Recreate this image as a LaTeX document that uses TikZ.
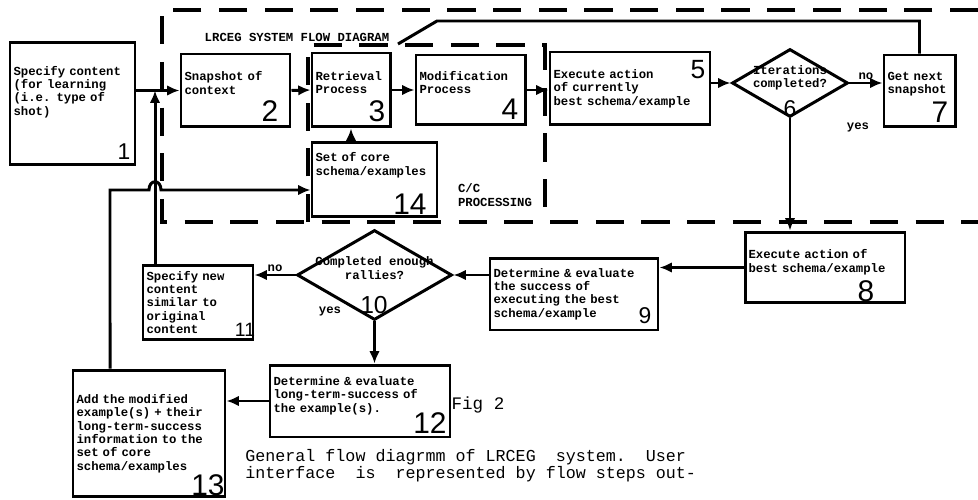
\documentclass[tikz,border=0pt]{standalone}
\usepackage{fontspec}
\setmonofont{Liberation Mono}
\newfontfamily\digitfont{Liberation Sans}
\usetikzlibrary{shapes.geometric,arrows.meta}

\tikzset{
  box/.style={draw,line width=1.7pt,align=left,inner sep=2pt,font=\ttfamily\bfseries\fontsize{7}{7.6}\selectfont},
  dec/.style={draw,diamond,line width=1.7pt,inner sep=0pt},
  lbl/.style={font=\ttfamily\bfseries\fontsize{7}{7.6}\selectfont,inner sep=1pt,align=center},
  num/.style={font=\digitfont\fontsize{17}{17}\selectfont,inner sep=0pt},
  link/.style={line width=1.7pt,-{Latex[length=7pt,width=6pt]}},
  wire/.style={line width=1.7pt},
  zone/.style={line width=1.8pt,dash pattern=on 16pt off 10pt},
}

\begin{document}
\begin{tikzpicture}[x=0.02cm,y=-0.02cm]
\useasboundingbox (0,0) rectangle (978,500);
% dashed areas
\draw[zone] (978,10) -- (162,10) -- (162,222) -- (978,222);
\draw[zone] (308,222) -- (308,45) -- (545,45) -- (545,222);
\node[lbl] (areatitle) at (297,37) {LRCEG SYSTEM FLOW DIAGRAM};
\node[lbl,anchor=west,align=left] (cctitle) at (456,195) {C/C\\PROCESSING};

% steps
\node[box,text width=2.36cm,minimum height=2.46cm] (b1) at (72.5,103.5) {Specify content\\(for learning\\(i.e. type of\\shot)\\[7pt]\mbox{}};
\node[box,text width=2.04cm,minimum height=1.46cm] (b2) at (235.5,90.5) {Snapshot of\\context\\[1pt]\mbox{}};
\node[box,text width=1.42cm,minimum height=1.48cm] (b3) at (351,90) {Retrieval\\Process\\[1pt]\mbox{}};
\node[box,text width=2.04cm,minimum height=1.40cm] (b4) at (470.5,90) {Modification\\Process\\[1pt]\mbox{}};
\node[box,text width=3.06cm,minimum height=1.46cm] (b5) at (630,88.5) {Execute action\\of currently\\best schema/example};
\node[dec,minimum width=2.32cm,minimum height=1.36cm] (d6) at (790,83) {};
\node[lbl] (t6) at (790,78) {Iterations\\completed?};
\node[box,text width=1.28cm,minimum height=1.44cm] (b7) at (919.5,91) {Get next\\snapshot\\[2pt]\mbox{}};
\node[box,text width=2.36cm,minimum height=1.50cm] (b14) at (374.5,179.5) {Set of core\\schema/examples\\[10pt]\mbox{}};
\node[box,text width=3.06cm,minimum height=1.42cm] (b8) at (825,267.5) {Execute action of\\best schema/example\\\mbox{}};
\node[box,text width=3.22cm,minimum height=1.44cm] (b9) at (574,294) {Determine \& evaluate\\the success of\\executing the best\\schema/example};
\node[dec,minimum width=3.1cm,minimum height=1.8cm] (d10) at (374.5,275) {};
\node[lbl] (t10) at (374.5,268) {Completed enough\\rallies?};
\node[box,text width=2.06cm,minimum height=1.50cm] (b11) at (198,302.5) {Specify new\\content\\similar to\\original\\content};
\node[box,text width=3.46cm,minimum height=1.44cm] (b12) at (360,401) {Determine \& evaluate\\long-term-success of\\the example(s).\\\mbox{}};
\node[box,text width=2.90cm,minimum height=2.54cm] (b13) at (149,433.5) {Add the modified\\example(s) + their\\long-term-success\\information to the\\set of core\\schema/examples};

% step numbers
\node[num,font=\digitfont\fontsize{13}{13}\selectfont] (n1) at (124,152) {1};
\node[num] (n2) at (270,111) {2};
\node[num] (n3) at (377,111) {3};
\node[num] (n4) at (510,109) {4};
\node[num,font=\digitfont\fontsize{15}{15}\selectfont] (n5) at (698,70) {5};
\node[num,font=\digitfont\fontsize{13}{13}\selectfont] (n6) at (790,109) {6};
\node[num] (n7) at (940,112) {7};
\node[num] (n14) at (410,204) {14};
\node[num] (n8) at (866,291) {8};
\node[num,font=\digitfont\fontsize{13}{13}\selectfont] (n9) at (645,316) {9};
\node[num,font=\digitfont\fontsize{14}{14}\selectfont] (n10) at (374,305) {10};
\node[num,font=\digitfont\fontsize{11}{11}\selectfont] (n11) at (245,330) {11};
\node[num] (n12) at (430,423) {12};
\node[num] (n13) at (208,485) {13};

% flow
\coordinate (ret) at (398,44);
\coordinate (up11) at ([xshift=-0.86cm]b11.north);
\coordinate (up13) at ([xshift=-0.78cm]b13.north);
\coordinate (in14) at ([yshift=-0.21cm]b14.west);
\draw[link] (b1.east |- b2.west) -- (b2.west);
\draw[link] (b2.east) -- (b3.west);
\draw[link] (b3.east) -- (b4.west);
\draw[link] (b4.east) -- (b4.east -| b5.west);
\draw[link] (b5.east |- d6.west) -- (d6.west);
\draw[link] (d6.east) -- (d6.east -| b7.west) node[midway,above,lbl] (no6) {no};
\node[lbl] (yes6) at (858,127) {yes};
\draw[wire] (b7.north) |- (437,21) -- (ret);
\draw[link] (d6.south) -- (d6.south |- b8.north);
\draw[link] (b8.west) -- (b8.west -| b9.east);
\draw[link] (d10.east -| b9.west) -- (d10.east);
\draw[link] (d10.west) -- (d10.west -| b11.east) node[midway,above,lbl] (no10) {no};
\node[lbl] (yes10) at (330,311) {yes};
\draw[link] (d10.south) -- (d10.south |- b12.north);
\draw[link] (b12.west) -- (b12.west -| b13.east);
\draw[link] (up13) -- (110,190) -- (149,190) .. controls (149,179) and (161,179) .. (161,190) -- (in14);
\draw[link] (up11) -- (up11 |- b2.west);
\draw[link] (b3.south |- b14.north) -- (b3.south);

% caption
\node[font=\ttfamily\fontsize{10}{10}\selectfont] (fig) at (478,405) {Fig 2};
\node[font=\ttfamily\fontsize{9.5}{9.8}\selectfont,anchor=north west,align=left,inner sep=0pt] (caption) at (245,449) {General flow diagrmm of LRCEG\ \ system.\ \ User\\interface\ \ is\ \ represented by flow steps out-};
\end{tikzpicture}
\end{document}
